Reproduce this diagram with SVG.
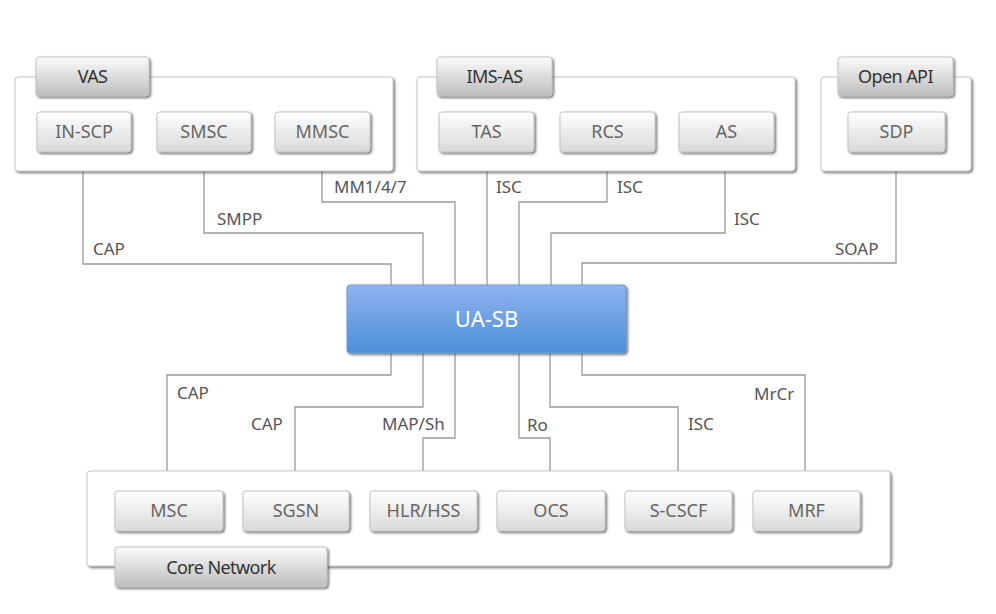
<svg xmlns="http://www.w3.org/2000/svg" width="996" height="614" viewBox="0 0 996 614">
<defs>
<linearGradient id="gNode" x1="0" y1="0" x2="0" y2="1">
<stop offset="0" stop-color="#ffffff"/><stop offset="1" stop-color="#d9d9d9"/>
</linearGradient>
<linearGradient id="gTab" x1="0" y1="0" x2="0" y2="1">
<stop offset="0" stop-color="#fbfbfb"/><stop offset="1" stop-color="#bdbdbd"/>
</linearGradient>
<linearGradient id="gCore" x1="0" y1="0" x2="0" y2="1">
<stop offset="0" stop-color="#8fb3ee"/><stop offset="1" stop-color="#4b8fd8"/>
</linearGradient>
<filter id="sh" x="-10%" y="-10%" width="125%" height="140%">
<feDropShadow dx="1.5" dy="1.5" stdDeviation="0.8" flood-color="#444" flood-opacity="0.75"/>
</filter>
</defs>
<style>
.grp{fill:#fff;stroke:#c8c8c8;stroke-width:1;filter:url(#sh)}
.node{fill:url(#gNode);stroke:#c4c4c4;stroke-width:1;filter:url(#sh)}
.tab{fill:url(#gTab);stroke:#c4c4c4;stroke-width:1;filter:url(#sh)}
.nt{font-family:"Noto Sans","Open Sans",sans-serif;font-size:18px;fill:#666;text-anchor:middle}
.tt{font-family:"Noto Sans","Open Sans",sans-serif;font-size:18px;fill:#333;text-anchor:middle;letter-spacing:-0.6px}
.lbl{font-family:"Noto Sans","Open Sans",sans-serif;font-size:17px;fill:#555}
.conn path{fill:none;stroke:#9a9a9a;stroke-width:1.3}
</style>
<rect width="996" height="614" fill="#fff"/>

<g id="connectors" class="conn">
<path d="M83 171 V264 H391 V286"/>
<path d="M204 171 V233 H423 V286"/>
<path d="M322 171 V202 H455 V286"/>
<path d="M487 171 V286"/>
<path d="M607 171 V202 H519 V286"/>
<path d="M725 171 V233 H551 V286"/>
<path d="M896 171 V263 H582 V286"/>
<path d="M391 353 V375 H167 V471"/>
<path d="M423 353 V407 H295 V471"/>
<path d="M455 353 V438 H423 V471"/>
<path d="M519 353 V438 H550 V471"/>
<path d="M550 353 V407 H678 V471"/>
<path d="M582 353 V375 H805 V471"/>
<text class="lbl" x="93" y="255">CAP</text>
<text class="lbl" x="217" y="225">SMPP</text>
<text class="lbl" x="334" y="193">MM1/4/7</text>
<text class="lbl" x="496" y="193">ISC</text>
<text class="lbl" x="617" y="193">ISC</text>
<text class="lbl" x="734" y="225">ISC</text>
<text class="lbl" x="835" y="255">SOAP</text>
<text class="lbl" x="177" y="399">CAP</text>
<text class="lbl" x="251" y="430">CAP</text>
<text class="lbl" x="382" y="430">MAP/Sh</text>
<text class="lbl" x="527" y="431">Ro</text>
<text class="lbl" x="688" y="430">ISC</text>
<text class="lbl" x="754" y="400">MrCr</text>
</g>

<g id="vas">
<rect class="grp" x="15" y="77" width="378" height="94" rx="3"/>
<rect class="tab" x="36" y="57" width="113" height="39" rx="3"/>
<text class="tt" x="92.5" y="83">VAS</text>
</g>
<g id="in-scp"><rect class="node" x="37" y="112" width="94" height="40" rx="3"/><text class="nt" x="84" y="138">IN-SCP</text></g>
<g id="smsc"><rect class="node" x="157" y="112" width="94" height="40" rx="3"/><text class="nt" x="204" y="138">SMSC</text></g>
<g id="mmsc"><rect class="node" x="275" y="112" width="95" height="40" rx="3"/><text class="nt" x="322.5" y="138">MMSC</text></g>

<g id="ims-as">
<rect class="grp" x="417" y="77" width="378" height="94" rx="3"/>
<rect class="tab" x="437" y="57" width="115" height="39" rx="3"/>
<text class="tt" x="494.5" y="83">IMS-AS</text>
</g>
<g id="tas"><rect class="node" x="439" y="112" width="95" height="40" rx="3"/><text class="nt" x="486.5" y="138">TAS</text></g>
<g id="rcs"><rect class="node" x="560" y="112" width="95" height="40" rx="3"/><text class="nt" x="607.5" y="138">RCS</text></g>
<g id="as"><rect class="node" x="679" y="112" width="95" height="40" rx="3"/><text class="nt" x="726.5" y="138">AS</text></g>

<g id="open-api">
<rect class="grp" x="821" y="77" width="150" height="94" rx="3"/>
<rect class="tab" x="838" y="57" width="115" height="39" rx="3"/>
<text class="tt" x="895.5" y="83">Open API</text>
</g>
<g id="sdp"><rect class="node" x="848" y="112" width="97" height="40" rx="3"/><text class="nt" x="896.5" y="138">SDP</text></g>

<g id="ua-sb">
<rect x="347" y="285" width="279" height="68" rx="3" fill="url(#gCore)" stroke="#6f9fd8" stroke-width="1" filter="url(#sh)"/>
<text x="486.5" y="327" font-family="'Noto Sans','Open Sans',sans-serif" font-size="22" fill="#fff" text-anchor="middle">UA-SB</text>
</g>

<g id="core-network">
<rect class="grp" x="87" y="471" width="803" height="95" rx="3"/>
<rect class="tab" x="115" y="547" width="212" height="40" rx="3"/>
<text class="tt" x="221" y="574">Core Network</text>
</g>
<g id="msc"><rect class="node" x="115" y="491" width="108" height="40" rx="3"/><text class="nt" x="169" y="517">MSC</text></g>
<g id="sgsn"><rect class="node" x="243" y="491" width="106" height="40" rx="3"/><text class="nt" x="296" y="517">SGSN</text></g>
<g id="hlr-hss"><rect class="node" x="370" y="491" width="107" height="40" rx="3"/><text class="nt" x="423.5" y="517">HLR/HSS</text></g>
<g id="ocs"><rect class="node" x="497" y="491" width="108" height="40" rx="3"/><text class="nt" x="551" y="517">OCS</text></g>
<g id="s-cscf"><rect class="node" x="625" y="491" width="107" height="40" rx="3"/><text class="nt" x="678.5" y="517">S-CSCF</text></g>
<g id="mrf"><rect class="node" x="753" y="491" width="107" height="40" rx="3"/><text class="nt" x="806.5" y="517">MRF</text></g>
</svg>
